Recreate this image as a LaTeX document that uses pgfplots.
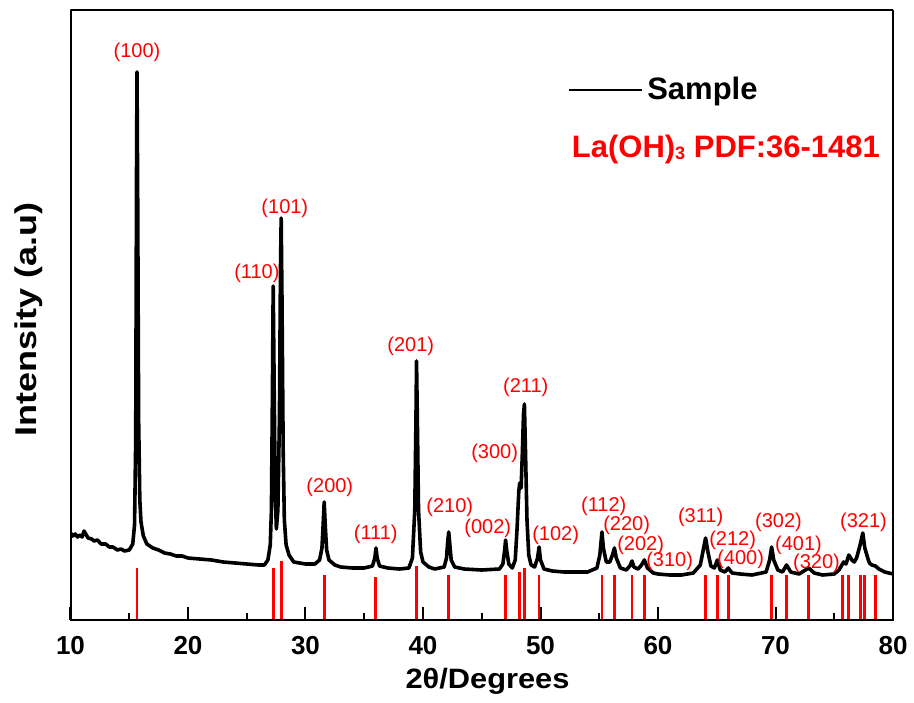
\documentclass[border=0pt]{standalone}
\usepackage{fontspec}
\setmainfont{Liberation Sans}
\usepackage{pgfplots}
\pgfplotsset{compat=1.18}
\begin{document}
\begin{tikzpicture}
\begin{axis}[name=ax, scale only axis, width=411.25pt, height=305pt,
  xmin=10, xmax=80, ymin=0, ymax=610,
  xtick={10,20,...,80}, minor x tick num=1, ytick=\empty,
  xtick pos=bottom, tick align=inside,
  major tick length=6.5pt, minor tick length=3.5pt,
  every tick/.append style={black, line width=1pt},
  /pgf/number format/assume math mode=true,
  xticklabel style={font=\fontsize{13}{13}\selectfont\bfseries, anchor=center, yshift=-13pt},
  xlabel={\scalebox{1.1}[1]{2θ/Degrees}},
  xlabel style={font=\fontsize{14}{14}\selectfont\bfseries, at={(axis description cs:0.507,-0.1)}, anchor=center},
  ylabel={\scalebox{1.2}[1]{Intensity (a.u)}},
  ylabel style={font=\fontsize{15}{15}\selectfont\bfseries, at={(axis description cs:-0.0511,0.492)}, anchor=center},
  legend style={draw=none, fill=none, at={(0.604,0.869)}, anchor=west, inner sep=0pt,
    font=\fontsize{15.5}{15.5}\selectfont\bfseries},
  legend image code/.code={\draw[#1, line width=1.3pt] (0pt,0pt) -- (36.5pt,0pt);},
]
\addplot[red, line width=1.4pt, ycomb, no marks, forget plot] coordinates {
(15.66,52) (27.25,52) (27.93,59) (31.59,45) (35.99,43) (39.45,54) (42.19,45)
(47.02,45) (48.23,48) (48.63,52) (49.88,45) (55.23,45) (56.29,45) (57.79,45)
(58.84,45) (64.05,45) (65.05,45) (65.98,45) (69.67,45) (70.94,45) (72.82,45)
(75.73,45) (76.24,45) (77.24,45) (77.60,45) (78.51,45)
};
\addplot[black, line width=1.8pt, no marks, line join=round] coordinates {
(10.0,87) (10.2,84) (10.4,86) (10.6,83) (10.8,85) (11.0,83) (11.15,89) (11.3,86)
(11.5,82) (11.8,81) (12.0,79) (12.3,80) (12.6,76) (13.0,76) (13.3,73) (13.6,73)
(14.0,70) (14.3,71) (14.6,69) (15.0,70) (15.3,76) (15.45,95) (15.55,180) (15.62,450)
(15.66,548) (15.72,420) (15.8,200) (15.9,120) (16.0,98) (16.2,84) (16.5,76) (17.0,72)
(17.5,70) (18.0,67) (18.5,66) (19.0,64) (19.5,64) (20.0,62) (21.0,61) (22.0,60)
(23.0,58) (24.0,57) (25.0,56) (26.0,55) (26.5,55) (26.8,60) (27.0,75) (27.1,110)
(27.18,220) (27.25,334) (27.32,250) (27.42,130) (27.52,91) (27.65,110) (27.78,200)
(27.87,350) (27.93,402) (28.0,320) (28.1,170) (28.2,100) (28.35,75) (28.6,65)
(29.0,58) (29.5,57) (30.0,56) (30.8,56) (31.2,60) (31.4,72) (31.5,95) (31.59,118)
(31.68,95) (31.8,70) (32.0,60) (32.5,55) (33.0,53) (34.0,52) (35.0,52) (35.7,54)
(35.9,62) (36.0,72) (36.1,62) (36.3,54) (37.0,52) (38.0,51) (38.8,52) (39.1,62)
(39.3,110) (39.4,200) (39.45,259) (39.52,200) (39.62,110) (39.8,68) (40.0,58)
(40.5,53) (41.0,51) (41.8,53) (42.0,62) (42.1,78) (42.19,88) (42.28,76) (42.4,60)
(42.7,53) (43.5,51) (45.0,50) (46.5,51) (46.8,56) (46.95,70) (47.03,80) (47.12,70)
(47.3,56) (47.6,52) (47.85,60) (48.0,90) (48.15,128) (48.23,137) (48.35,132)
(48.45,165) (48.55,205) (48.63,216) (48.72,170) (48.85,100) (49.0,65) (49.2,55)
(49.5,53) (49.75,62) (49.88,73) (50.0,60) (50.3,51) (51.0,49) (52.0,48) (53.0,48)
(54.0,48) (54.8,52) (55.05,65) (55.23,88) (55.35,72) (55.6,58) (55.9,58) (56.15,66)
(56.29,72) (56.45,62) (56.8,52) (57.3,50) (57.6,54) (57.79,59) (57.95,53) (58.3,51)
(58.6,55) (58.84,60) (59.1,52) (59.6,47) (60.0,46) (61.0,45) (62.0,45) (63.0,47)
(63.6,55) (63.85,70) (64.05,82) (64.25,68) (64.5,54) (64.8,52) (65.05,60) (65.3,50)
(65.7,48) (65.98,52) (66.3,47) (67.0,46) (68.0,45) (69.2,48) (69.5,60) (69.67,73)
(69.85,60) (70.2,50) (70.6,48) (70.94,55) (71.3,48) (72.0,46) (72.82,52) (73.3,47)
(74.0,45) (75.0,46) (75.4,50) (75.8,58) (76.0,56) (76.24,65) (76.5,60) (76.7,58)
(76.9,62) (77.2,75) (77.43,87) (77.6,72) (77.9,60) (78.0,57) (78.2,55) (78.5,54)
(78.8,51) (79.3,48) (80.0,46)
};
\addlegendentry{Sample}
\draw[black, line width=1.25pt] (rel axis cs:0,0) rectangle (rel axis cs:1,1);
\node[anchor=base west, red, font=\fontsize{15.5}{15.5}\selectfont\bfseries] at (rel axis cs:0.601,0.759) {La(OH)\raisebox{-0.15ex}{\fontsize{9}{9}\selectfont 3} PDF:36-1481};
\begin{scope}[every node/.style={red, font=\fontsize{10}{12}\selectfont, anchor=center, inner sep=0pt}]
\node at (axis cs:15.66,568) {(100)};
\node at (axis cs:25.86,347) {(110)};
\node at (axis cs:28.24,412) {(101)};
\node at (axis cs:32.07,133) {(200)};
\node at (axis cs:35.98,86) {(111)};
\node at (axis cs:38.96,274) {(201)};
\node at (axis cs:42.28,113) {(210)};
\node at (axis cs:45.51,92) {(002)};
\node at (axis cs:46.1,167) {(300)};
\node at (axis cs:48.74,233) {(211)};
\node at (axis cs:51.29,85) {(102)};
\node at (axis cs:55.38,114) {(112)};
\node at (axis cs:57.33,95) {(220)};
\node at (axis cs:58.52,75) {(202)};
\node at (axis cs:60.99,59) {(310)};
\node at (axis cs:63.63,103) {(311)};
\node at (axis cs:66.35,80) {(212)};
\node at (axis cs:67.03,61) {(400)};
\node at (axis cs:70.26,98) {(302)};
\node at (axis cs:71.96,75) {(401)};
\node at (axis cs:73.49,57) {(320)};
\node at (axis cs:77.49,98) {(321)};
\end{scope}
\end{axis}
\pgfresetboundingbox
\path ([shift={(-35.25pt,-41pt)}]ax.south west) rectangle ([shift={(10.5pt,5pt)}]ax.north east);
\end{tikzpicture}
\end{document}
